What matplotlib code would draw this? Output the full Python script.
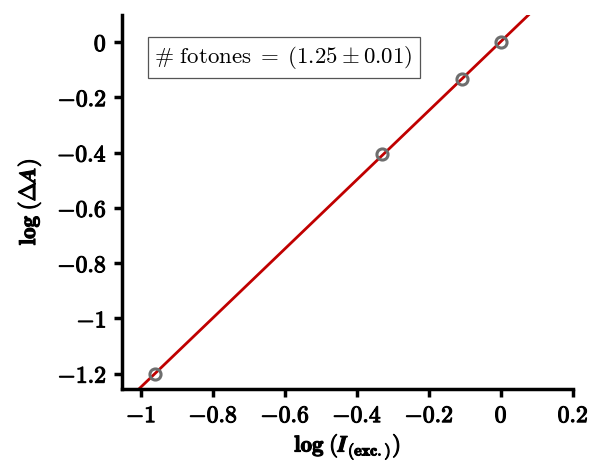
import numpy as np
import matplotlib.pyplot as plt
import matplotlib.patheffects as pe

plt.rcParams['mathtext.fontset'] = 'cm'
plt.rcParams['font.family'] = 'serif'
plt.rcParams['font.serif'] = ['DejaVu Serif']

# medidas: log de la intensidad de excitacion y log del cambio de absorbancia
log_I = [-0.961, -0.33, -0.108, 0.0]
log_dA = [-1.200, -0.405, -0.135, 0.0]
pendiente = 1.25
error = 0.01

xticks = [-1.0, -0.8, -0.6, -0.4, -0.2, 0.0, 0.2]
yticks = [0.0, -0.2, -0.4, -0.6, -0.8, -1.0, -1.2]


def etiqueta(v):
    if abs(v) < 1e-9:
        return r'$\mathbf{0}$'
    if abs(v - round(v)) < 1e-9:
        return r'$\mathbf{%d}$' % round(v)
    return r'$\mathbf{%.1f}$' % v


negrita = [pe.withStroke(linewidth=0.8, foreground='black')]

fig = plt.figure(figsize=(5.92, 4.63), dpi=100)
ax = fig.add_axes([0.206, 0.160, 0.762, 0.808])

# recta de ajuste con la pendiente obtenida
b = np.mean(np.array(log_dA) - pendiente * np.array(log_I))
xx = np.linspace(-1.2, 0.3, 10)
ax.plot(xx, pendiente * xx + b, color='#c00000', lw=2.0, zorder=2)
ax.plot(log_I, log_dA, 'o', mfc='none', mec='#6e6e6e', mew=2.2, ms=8, zorder=3)

ax.set_xlim(-1.053, 0.2)
ax.set_ylim(-1.255, 0.098)
ax.set_xticks(xticks)
ax.set_xticklabels([etiqueta(v) for v in xticks])
ax.set_yticks(yticks)
ax.set_yticklabels([etiqueta(v) for v in yticks])
ax.tick_params(labelsize=17, width=2.5, length=6, direction='out', pad=5)
for t in ax.get_xticklabels() + ax.get_yticklabels():
    t.set_path_effects(negrita)

for s in ['top', 'right']:
    ax.spines[s].set_visible(False)
for s in ['left', 'bottom']:
    ax.spines[s].set_linewidth(2.5)

ax.set_xlabel(r'$\mathbf{log}\;(\boldsymbol{I}_{\mathbf{(exc.)}})$', fontsize=16.5, labelpad=4)
ax.set_ylabel(r'$\mathbf{log}\;(\Delta \boldsymbol{A})$', fontsize=16.5, labelpad=10)
ax.xaxis.label.set_path_effects(negrita)
ax.yaxis.label.set_path_effects(negrita)

ax.text(0.072, 0.885, r'$\#\ \mathrm{fotones}\;=\;(%.2f \pm %.2f)$' % (pendiente, error),
        transform=ax.transAxes, fontsize=16.5, va='center', ha='left',
        bbox=dict(boxstyle='square,pad=0.3', fc='white', ec='#555555', lw=0.9))

fig.savefig('out.png', dpi=100)
